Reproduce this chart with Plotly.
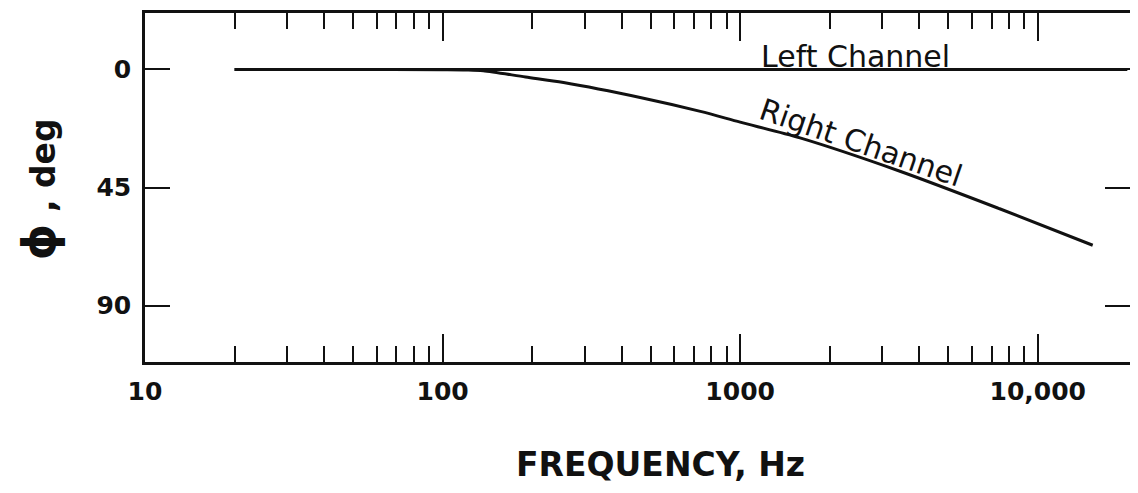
import plotly.graph_objects as go

# Phase response
freq_left = [20, 20000]
phase_left = [0, 0]

freq_right = [20, 50, 100, 120, 137, 190, 255, 461, 735, 1000, 1589, 3443, 7447, 15300]
phase_right = [0, 0, 0.1, 0.2, 0.5, 2.9, 5.0, 10.7, 16.0, 20.1, 26.1, 38.8, 53.1, 67.0]

x_ticks = [10, 100, 1000, 10000]
x_ticktext = ["10", "100", "1000", "10,000"]
x_minor = [m * d for d in (10, 100, 1000) for m in range(2, 10)]
y_ticks = [0, 45, 90]

FONT = "DejaVu Sans"

fig = go.Figure()
fig.add_scatter(x=freq_left, y=phase_left, mode="lines", name="Left Channel",
                line=dict(color="#111", width=3))
fig.add_scatter(x=freq_right, y=phase_right, mode="lines", name="Right Channel",
                line=dict(color="#111", width=3, shape="spline", smoothing=0.8))

# page body adds 8px, so the figure is drawn 8px smaller/shifted
fig.update_layout(
    width=1130, height=485,
    margin=dict(l=137, r=8, t=2, b=131),
    paper_bgcolor="white", plot_bgcolor="white",
    showlegend=False,
    font=dict(family=FONT, color="#111"),
)

fig.update_xaxes(
    type="log", range=[1, 4.31],
    tickvals=x_ticks, ticktext=x_ticktext,
    ticks="inside", ticklen=28, tickwidth=2, tickcolor="#111",
    tickfont=dict(family=FONT, size=25, weight="bold"),
    ticklabelstandoff=5,
    showline=True, linewidth=2.5, linecolor="#111", mirror="ticks",
    showgrid=False, zeroline=False,
    minor=dict(tickvals=x_minor, ticks="inside", ticklen=16, tickwidth=2,
               tickcolor="#111", showgrid=False),
)
fig.update_yaxes(
    range=[111.5, -21.5],
    tickvals=y_ticks,
    ticks="inside", ticklen=25, tickwidth=2, tickcolor="#111",
    tickfont=dict(family=FONT, size=25, weight="bold"),
    ticklabelstandoff=6,
    showline=True, linewidth=2.5, linecolor="#111", mirror="ticks",
    showgrid=False, zeroline=False,
)

# curve labels
fig.add_annotation(x=3.389, y=-5.0, xref="x", yref="y", text="Left Channel",
                   showarrow=False, font=dict(size=30, family=FONT))
fig.add_annotation(x=3.405, y=28.0, xref="x", yref="y", text="Right Channel",
                   textangle=19, showarrow=False, font=dict(size=30, family=FONT))

# axis titles
fig.add_annotation(x=-0.108, y=0.494, xref="paper", yref="paper",
                   xanchor="center", yanchor="middle",
                   text="<span style='font-size:46px'>ϕ</span> , deg",
                   textangle=-90, showarrow=False,
                   font=dict(size=33, family=FONT, weight="bold"))
fig.add_annotation(x=0.523, y=-0.293, xref="paper", yref="paper",
                   xanchor="center", yanchor="middle",
                   text="FREQUENCY, Hz", showarrow=False,
                   font=dict(size=33, family=FONT, weight="bold"))

fig.write_html("out.html")
